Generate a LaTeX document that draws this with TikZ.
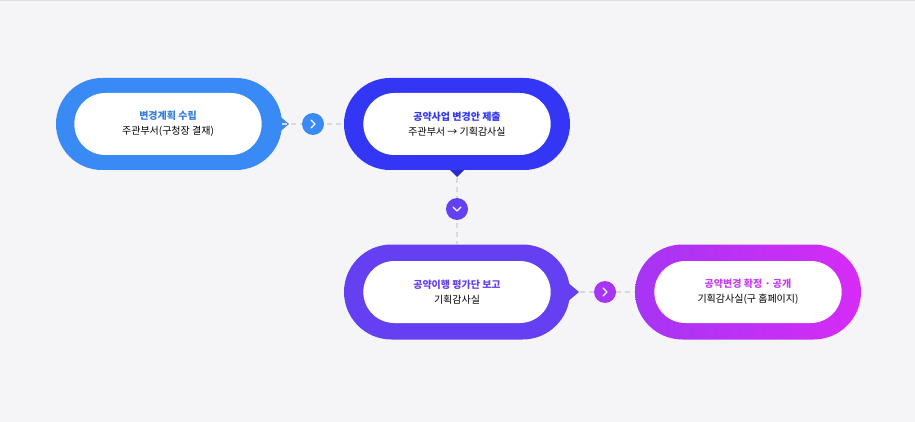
\documentclass[tikz,border=0pt]{standalone}
\usepackage{fontspec}
\setmainfont{Noto Sans CJK KR}
\usetikzlibrary{positioning,shapes.misc}
\definecolor{StepOne}{HTML}{3A8AF5}
\definecolor{StepTwo}{HTML}{3336F5}
\definecolor{StepThree}{HTML}{6440F2}
\definecolor{StepFour}{HTML}{C43EF2}
\definecolor{BackGray}{HTML}{F5F5F7}
\tikzset{
  pillbox/.style={rounded rectangle, minimum width=226pt, minimum height=92pt, inner sep=0pt},
  innerbox/.style={rounded rectangle, fill=white, minimum width=194pt, minimum height=62pt, align=center, font=\fontsize{10}{15}\selectfont},
  stepdot/.style={circle, minimum size=22pt, inner sep=0pt},
  chevron/.style={draw=white, line width=1.3pt, line cap=round, line join=round},
  link/.style={draw=black!15, line width=2pt, dash pattern=on 5pt off 4pt},
}
\begin{document}
\begin{tikzpicture}[x=1pt,y=-1pt]

    \useasboundingbox (0,0) rectangle (915,422);
    \fill[BackGray] (0,0) rectangle (915,422);
    \draw[black!12] (0,0.5) -- (915,0.5);

    % Pointers
    \fill[StepOne] (270,108) -- (289,124) -- (270,140) -- cycle;
    \fill[StepTwo!80!black] (440,160) -- (457,177) -- (474,160) -- cycle;
    \fill[StepThree] (560,276) -- (579,292) -- (560,308) -- cycle;

    % Step boxes
    \node[pillbox, fill=StepOne] (planOuter) at (169,124) {};
    \node[innerbox] (plan) at (168,124) {{\bfseries\color{StepOne!90!black}변경계획 수립}\\주관부서(구청장 결재)};

    \node[pillbox, fill=StepTwo] (submitOuter) at (457,124) {};
    \node[innerbox] (submit) at (457,124) {{\bfseries\color{StepTwo}공약사업 변경안 제출}\\주관부서 → 기획감사실};

    \node[pillbox, fill=StepThree, minimum height=95pt] (reportOuter) at (457,292) {};
    \node[innerbox] (report) at (457,292) {{\bfseries\color{StepThree}공약이행 평가단 보고}\\기획감사실};

    \node[pillbox, left color=StepFour!85!blue, right color=StepFour!70!magenta, minimum height=95pt] (finalOuter) at (748,292) {};
    \node[innerbox] (final) at (748,292) {{\bfseries\color{StepFour}공약변경 확정 · 공개}\\기획감사실(구 홈페이지)};

    % Connectors
    \draw[link] (planOuter.east) -- (submitOuter.west);
    \draw[link] (submitOuter.south) ++(0,8) -- (reportOuter.north);
    \draw[link] (reportOuter.east) ++(10,0) -- (finalOuter.west);

    \node[stepdot, fill=StepOne] (dotOne) at (313,124) {};
    \node[stepdot, fill=StepThree] (dotTwo) at (457,209) {};
    \node[stepdot, fill=StepFour!85!blue] (dotThree) at (605,292) {};
    \draw[chevron] ([shift={(-2,-4)}]dotOne.center) -- ++(4,4) -- ++(-4,4);
    \draw[chevron] ([shift={(-4,-2)}]dotTwo.center) -- ++(4,4) -- ++(4,-4);
    \draw[chevron] ([shift={(-2,-4)}]dotThree.center) -- ++(4,4) -- ++(-4,4);

\end{tikzpicture}
\end{document}
